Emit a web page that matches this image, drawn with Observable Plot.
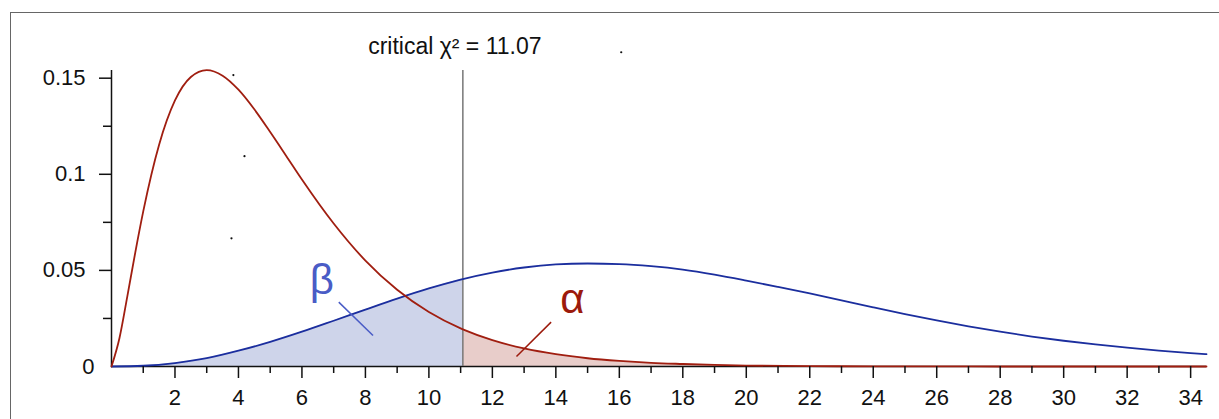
<!DOCTYPE html>
<html>
<head>
<meta charset="utf-8">
<script src="https://cdn.jsdelivr.net/npm/d3@7"></script>
<script src="https://cdn.jsdelivr.net/npm/@observablehq/plot@0.6"></script>
<style>
  html, body { margin: 0; padding: 0; background: #fff; overflow: hidden; }
  #wrap { position: relative; width: 1219px; height: 419px; overflow: hidden; }
  #frame { position: absolute; left: 10px; top: 12px; width: 1400px; height: 600px;
           border-left: 1.5px solid #666; border-top: 1.5px solid #666; pointer-events: none; }
  svg { font-family: "Liberation Sans", Arial, Helvetica, sans-serif; }
</style>
</head>
<body>
<div id="wrap"><div id="frame"></div></div>
<script>
// Null distribution (central chi-square, df = 5): x values and densities
const nullX = [0, 0.25, 0.5, 0.75, 1, 1.5, 2, 2.5, 3, 3.5, 4, 4.5, 5, 5.5, 6, 7, 8, 9, 10, 11, 11.07, 12, 13, 14, 15, 16, 17, 18, 19, 20, 22, 24, 26, 28, 30, 34.5];
const nullY = [0, 0.0147, 0.0366, 0.0594, 0.0807, 0.1154, 0.1384, 0.1506, 0.1542, 0.1513, 0.1440, 0.1338, 0.1220, 0.1097, 0.0973, 0.0744, 0.0551, 0.0399, 0.0283, 0.0198, 0.0193, 0.0137, 0.0094, 0.0064, 0.0043, 0.0029, 0.0019, 0.0013, 0.0008, 0.0005, 0.0002, 0.0001, 0.00004, 0.00001, 0, 0];

// Alternative distribution (noncentral chi-square)
const altX = [0, 1, 2, 3, 4, 5, 6, 7, 8, 9, 10, 11, 11.07, 12, 13, 14, 15, 16, 17, 18, 19, 20, 21, 22, 23, 24, 25, 26, 27, 28, 29, 30, 31, 32, 33, 34, 34.5];
const altY = [0, 0.0004, 0.0018, 0.0043, 0.0082, 0.0128, 0.0181, 0.0238, 0.0296, 0.0353, 0.0406, 0.0452, 0.0455, 0.0489, 0.0515, 0.0531, 0.0536, 0.0533, 0.0522, 0.0504, 0.0478, 0.0447, 0.0414, 0.0380, 0.0344, 0.0308, 0.0273, 0.0240, 0.0209, 0.0181, 0.0156, 0.0134, 0.0115, 0.0098, 0.0083, 0.0070, 0.0064];

const critical = 11.07;
const criticalLabel = "critical χ² = 11.07";

const xMajorTicks = [2, 4, 6, 8, 10, 12, 14, 16, 18, 20, 22, 24, 26, 28, 30, 32, 34];
const xMinorTicks = [1, 3, 5, 7, 9, 11, 13, 15, 17, 19, 21, 23, 25, 27, 29, 31, 33];
const yMajorTicks = [0.05, 0.1, 0.15];
const yMajorLabels = ["0.05", "0.1", "0.15"];
const yMinorTicks = [0.025, 0.075, 0.125];
const yZeroLabel = ["0"];

// Annotations (label positions in data units)
const betaLabel = [{text: "β", x: 6.63, y: 0.0445}];
const betaLeader = [{x1: 7.16, y1: 0.0335, x2: 8.24, y2: 0.0161}];
const alphaLabel = [{text: "α", x: 14.52, y: 0.0346}];
const alphaLeader = [{x1: 13.85, y1: 0.0231, x2: 12.76, y2: 0.0052}];
const strayDots = [{x: 3.84, y: 0.1516}, {x: 4.19, y: 0.1094}, {x: 3.78, y: 0.0667}, {x: 16.06, y: 0.1635}];

const nullData = nullX.map((x, i) => ({x, y: nullY[i]}));
const altData = altX.map((x, i) => ({x, y: altY[i]}));

const red = "#a01e10";
const blue = "#1b2e9e";

const chart = Plot.plot({
  width: 1219,
  height: 419,
  marginLeft: 111,
  marginRight: 13,
  marginTop: 70,
  marginBottom: 53,
  style: {fontFamily: '"Liberation Sans", Arial, Helvetica, sans-serif', fontSize: "22px", color: "#111", background: "transparent", overflow: "visible"},
  x: {domain: [0, 34.5]},
  y: {domain: [0, 0.154]},
  marks: [
    Plot.areaY(altData.filter(d => d.x <= critical), {x: "x", y: "y", fill: "#ced4ea", curve: "monotone-x"}),
    Plot.areaY(nullData.filter(d => d.x >= critical), {x: "x", y: "y", fill: "#e8cdca", curve: "monotone-x"}),
    Plot.ruleY([0], {x1: 0, x2: 34.5, stroke: "#111", strokeWidth: 1.5}),
    Plot.ruleX([0], {y1: 0, y2: 0.154, stroke: "#111", strokeWidth: 1.5}),
    Plot.ruleX([critical], {y1: 0, y2: 0.154, stroke: "#777", strokeWidth: 1.5}),
    Plot.line(altData, {x: "x", y: "y", stroke: blue, strokeWidth: 1.8, curve: "monotone-x"}),
    Plot.line(nullData, {x: "x", y: "y", stroke: red, strokeWidth: 1.8, curve: "monotone-x"}),
    Plot.axisX(xMajorTicks, {tickSize: 12, tickPadding: 11, strokeWidth: 1.5, fontSize: 22, label: null, tickFormat: d => String(d)}),
    Plot.axisX(xMinorTicks, {tickSize: 7, strokeWidth: 1.5, label: null, tickFormat: () => ""}),
    Plot.axisY(yMajorTicks, {tickSize: 12, tickPadding: 14, strokeWidth: 1.5, fontSize: 22, label: null, tickFormat: (d, i) => yMajorLabels[i]}),
    Plot.axisY(yMinorTicks, {tickSize: 8, strokeWidth: 1.5, label: null, tickFormat: () => ""}),
    Plot.text(yZeroLabel, {x: 0, y: 0, text: d => d, textAnchor: "end", dx: -17, fontSize: 22, fill: "#111"}),
    Plot.text([criticalLabel], {x: critical, y: 0.154, text: d => d, dx: -8, dy: -24, fontSize: 23, fill: "#111"}),
    Plot.link(betaLeader, {x1: "x1", y1: "y1", x2: "x2", y2: "y2", stroke: "#4a5cc6", strokeWidth: 1.5}),
    Plot.text(betaLabel, {x: "x", y: "y", text: "text", fontSize: 42, fill: "#4a5cc6"}),
    Plot.link(alphaLeader, {x1: "x1", y1: "y1", x2: "x2", y2: "y2", stroke: "#9c1a0c", strokeWidth: 1.5}),
    Plot.text(alphaLabel, {x: "x", y: "y", text: "text", fontSize: 42, fill: "#9c1a0c"}),
    Plot.dot(strayDots, {x: "x", y: "y", r: 1.1, fill: "#111", stroke: null})
  ]
});
document.getElementById("wrap").prepend(chart);
chart.style.position = "absolute";
chart.style.left = "0";
chart.style.top = "0";
</script>
</body>
</html>
